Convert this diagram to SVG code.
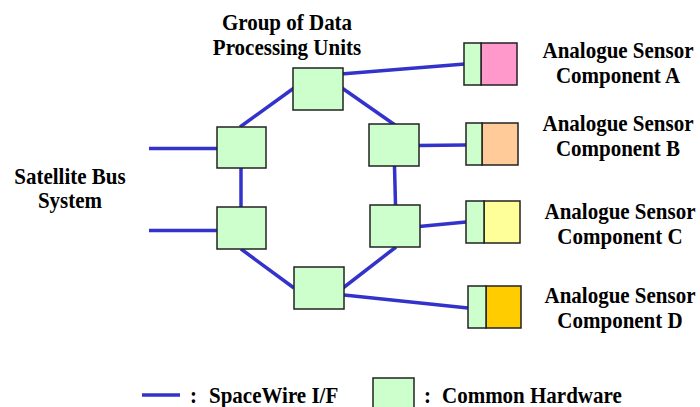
<svg xmlns="http://www.w3.org/2000/svg" width="700" height="407" viewBox="0 0 700 407">
<style>
.t{font-family:"Liberation Serif","Times New Roman",serif;font-weight:bold;font-size:21px;fill:#000;text-anchor:middle}
.tl{font-family:"Liberation Serif","Times New Roman",serif;font-weight:bold;font-size:21px;fill:#000}
.hw{fill:#CCFFCC;stroke:#222;stroke-width:1.5}
.box{stroke:#222;stroke-width:1.5}
.w{stroke:#3333CC;stroke-width:3.5;fill:none;stroke-linecap:butt}
</style>
<rect width="700" height="407" fill="#fff"/>
<g id="connectors">
<line class="w" x1="294" y1="88" x2="240" y2="127"/>
<line class="w" x1="342" y1="88" x2="395" y2="125"/>
<line class="w" x1="341" y1="74" x2="465" y2="64"/>
<line class="w" x1="241" y1="168" x2="241" y2="207"/>
<line class="w" x1="149" y1="148.5" x2="217" y2="148.5"/>
<line class="w" x1="149" y1="230.5" x2="217" y2="230.5"/>
<line class="w" x1="241" y1="249" x2="294" y2="288"/>
<line class="w" x1="343" y1="288" x2="396" y2="247"/>
<line class="w" x1="394.5" y1="166" x2="395.5" y2="205"/>
<line class="w" x1="418" y1="145.5" x2="466" y2="145"/>
<line class="w" x1="419" y1="226.5" x2="466" y2="222"/>
<line class="w" x1="344" y1="295" x2="468" y2="308"/>
</g>
<g id="dpu-top"><rect class="hw" x="293" y="68" width="50" height="42"/></g>
<g id="dpu-left-upper"><rect class="hw" x="217" y="127" width="49" height="41"/></g>
<g id="dpu-right-upper"><rect class="hw" x="369" y="124" width="50" height="42"/></g>
<g id="dpu-left-lower"><rect class="hw" x="217" y="207" width="49" height="42"/></g>
<g id="dpu-right-lower"><rect class="hw" x="370" y="205" width="50" height="42"/></g>
<g id="dpu-bottom"><rect class="hw" x="294" y="267" width="50" height="42"/></g>
<g id="sensor-a">
<rect class="box" x="481" y="43" width="36" height="42" fill="#FF99CC"/>
<rect class="hw" x="464" y="43" width="17" height="42"/>
<text class="t" transform="translate(618,58) scale(1,1.13)">Analogue Sensor</text>
<text class="t" transform="translate(618,83) scale(1,1.13)">Component A</text>
</g>
<g id="sensor-b">
<rect class="box" x="482" y="123" width="36" height="42" fill="#FFCC99"/>
<rect class="hw" x="466" y="123" width="16" height="42"/>
<text class="t" transform="translate(618,131) scale(1,1.13)">Analogue Sensor</text>
<text class="t" transform="translate(618,156) scale(1,1.13)">Component B</text>
</g>
<g id="sensor-c">
<rect class="box" x="484" y="201" width="36" height="42" fill="#FFFF99"/>
<rect class="hw" x="466" y="201" width="18" height="42"/>
<text class="t" transform="translate(620,219) scale(1,1.13)">Analogue Sensor</text>
<text class="t" transform="translate(620,244) scale(1,1.13)">Component C</text>
</g>
<g id="sensor-d">
<rect class="box" x="486" y="286" width="35" height="42" fill="#FFCC00"/>
<rect class="hw" x="468" y="286" width="18" height="42"/>
<text class="t" transform="translate(620,303) scale(1,1.13)">Analogue Sensor</text>
<text class="t" transform="translate(620,328) scale(1,1.13)">Component D</text>
</g>
<g id="label-dpu">
<text class="t" transform="translate(287,30) scale(1,1.13)">Group of Data</text>
<text class="t" transform="translate(287,55) scale(1,1.13)">Processing Units</text>
</g>
<g id="label-bus">
<text class="t" transform="translate(70,184) scale(1,1.13)">Satellite Bus</text>
<text class="t" transform="translate(70,208) scale(1,1.13)">System</text>
</g>
<g id="legend">
<line class="w" x1="142" y1="395" x2="180" y2="395"/>
<text class="tl" transform="translate(190,403) scale(1,1.13)">:</text>
<text class="tl" transform="translate(209,403) scale(1,1.13)">SpaceWire I/F</text>
<rect class="hw" x="373" y="378" width="41" height="32"/>
<text class="tl" transform="translate(424,403) scale(1,1.13)">:</text>
<text class="tl" transform="translate(442,403) scale(1,1.13)">Common Hardware</text>
</g>
</svg>
